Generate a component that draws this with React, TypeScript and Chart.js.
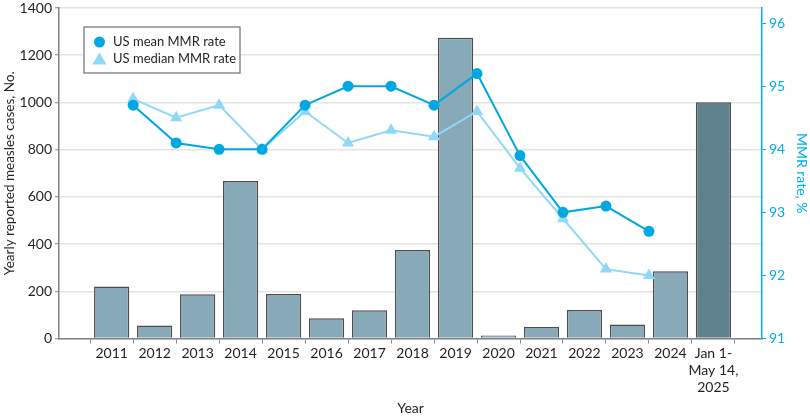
import { useEffect, useRef } from "react";
import { Chart, registerables } from "chart.js";

Chart.register(...registerables);

const years = [2011, 2012, 2013, 2014, 2015, 2016, 2017, 2018, 2019, 2020, 2021, 2022, 2023, 2024, 2025];
const yearLabels = ["2011", "2012", "2013", "2014", "2015", "2016", "2017", "2018", "2019", "2020", "2021", "2022", "2023", "2024", "Jan 1-|May 14,|2025"];
const measlesCases = [220, 55, 187, 667, 188, 86, 120, 375, 1274, 13, 49, 121, 59, 285, 1001];

// MMR points sit between the year bars (school years)
const mmrYears = [2011.5, 2012.5, 2013.5, 2014.5, 2015.5, 2016.5, 2017.5, 2018.5, 2019.5, 2020.5, 2021.5, 2022.5, 2023.5];
const meanMmr = [94.7, 94.1, 94.0, 94.0, 94.7, 95.0, 95.0, 94.7, 95.2, 93.9, 93.0, 93.1, 92.7];
const medianMmr = [94.8, 94.5, 94.7, 94.0, 94.6, 94.1, 94.3, 94.2, 94.6, 93.7, 92.9, 92.1, 92.0];

const leftTicks = [0, 200, 400, 600, 800, 1000, 1200, 1400];
const rightTicks = [91, 92, 93, 94, 95, 96];

const FONT = "Lato, 'Noto Sans', sans-serif";
const TEXT = "#231f20";
const CYAN = "#00aeef";
const MEAN = "#00a7e1";
const MEDIAN = "#8ed8f8";

const legendBox = {
  id: "legendBox",
  afterDraw(chart: Chart) {
    const ctx = chart.ctx;
    const x = 84;
    const y = 27;
    ctx.save();
    ctx.fillStyle = "#fff";
    ctx.strokeStyle = "#6d6e71";
    ctx.lineWidth = 1.2;
    ctx.fillRect(x, y, 156, 46);
    ctx.strokeRect(x, y, 156, 46);
    ctx.fillStyle = MEAN;
    ctx.beginPath();
    ctx.arc(x + 15.5, y + 15, 5.5, 0, Math.PI * 2);
    ctx.fill();
    ctx.fillStyle = MEDIAN;
    ctx.beginPath();
    const tx = x + 15.5;
    const ty = y + 32.5;
    ctx.moveTo(tx, ty - 7);
    ctx.lineTo(tx + 7, ty + 5);
    ctx.lineTo(tx - 7, ty + 5);
    ctx.closePath();
    ctx.fill();
    ctx.fillStyle = TEXT;
    ctx.font = `13px ${FONT}`;
    ctx.textBaseline = "middle";
    ctx.fillText("US mean MMR rate", x + 29, y + 15);
    ctx.fillText("US median MMR rate", x + 29, y + 32);
    ctx.restore();
  },
};

export default function App() {
  const canvasRef = useRef<HTMLCanvasElement | null>(null);

  useEffect(() => {
    if (!canvasRef.current) return;
    const chart = new Chart(canvasRef.current, {
      type: "bar",
      data: {
        datasets: [
          {
            type: "line",
            label: "US mean MMR rate",
            data: mmrYears.map((x, i) => ({ x, y: meanMmr[i] })),
            yAxisID: "y1",
            borderColor: MEAN,
            backgroundColor: MEAN,
            borderWidth: 2,
            pointRadius: 5.5,
            pointBorderWidth: 0,
            pointStyle: "circle",
            order: 0,
          },
          {
            type: "line",
            label: "US median MMR rate",
            data: mmrYears.map((x, i) => ({ x, y: medianMmr[i] })),
            yAxisID: "y1",
            borderColor: MEDIAN,
            backgroundColor: MEDIAN,
            borderWidth: 2,
            pointRadius: 7,
            pointBorderWidth: 0,
            pointStyle: "triangle",
            order: 1,
          },
          {
            type: "bar",
            label: "Yearly reported measles cases",
            data: years.map((x, i) => ({ x, y: measlesCases[i] })),
            yAxisID: "y",
            backgroundColor: years.map((yr) => (yr === 2025 ? "#5f808d" : "#87a9b8")),
            borderColor: "#4d4d4f",
            borderWidth: 1.5,
            borderSkipped: "bottom",
            categoryPercentage: 0.82,
            barPercentage: 1,
            order: 2,
          },
        ],
      },
      options: {
        animation: false,
        responsive: true,
        maintainAspectRatio: false,
        layout: { padding: { top: 8, left: 0, right: 0, bottom: 0 } },
        plugins: { legend: { display: false }, tooltip: { enabled: false } },
        scales: {
          x: {
            type: "linear",
            offset: false,
            min: 2009.775,
            max: 2026.13,
            afterBuildTicks: (scale) => {
              scale.ticks = years.map((v) => ({ value: v }));
            },
            afterFit: (scale) => {
              scale.height = 78.5;
              scale.paddingLeft = 0;
              scale.paddingRight = 0;
            },
            ticks: {
              color: TEXT,
              font: { family: FONT, size: 14 },
              padding: 2,
              maxRotation: 0,
              autoSkip: false,
              callback: (value) => {
                const i = years.indexOf(Number(value));
                return i < 0 ? "" : yearLabels[i].split("|");
              },
            },
            grid: { drawOnChartArea: false, drawTicks: true, tickLength: 5, color: "#808285" },
            border: { color: "#808285", width: 1.5 },
            title: {
              display: true,
              text: "Year",
              color: TEXT,
              font: { family: FONT, size: 14 },
              padding: { top: 6, bottom: 0 },
            },
          },
          y: {
            position: "left",
            min: 0,
            max: 1400,
            afterBuildTicks: (scale) => {
              scale.ticks = leftTicks.map((v) => ({ value: v }));
            },
            afterFit: (scale) => {
              scale.width = 59;
              scale.paddingTop = 0;
              scale.paddingBottom = 0;
            },
            ticks: {
              color: TEXT,
              font: { family: FONT, size: 14 },
              padding: 3,
              callback: (value) => String(value),
            },
            grid: { color: "#e3e3e3", lineWidth: 1.5, tickColor: "#808285", tickLength: 4, tickWidth: 1 },
            border: { color: "#808285", width: 1.5 },
            title: {
              display: true,
              text: "Yearly reported measles cases, No.",
              color: TEXT,
              font: { family: FONT, size: 13.5 },
              padding: { top: 2, bottom: 2 },
            },
          },
          y1: {
            position: "right",
            min: 91,
            max: 96.24,
            afterBuildTicks: (scale) => {
              scale.ticks = rightTicks.map((v) => ({ value: v }));
            },
            afterFit: (scale) => {
              scale.width = 48;
              scale.paddingTop = 0;
              scale.paddingBottom = 0;
            },
            ticks: {
              color: CYAN,
              font: { family: FONT, size: 14 },
              padding: 3,
              callback: (value) => String(value),
            },
            grid: { drawOnChartArea: false, drawTicks: true, tickLength: 4, color: CYAN },
            border: { color: CYAN, width: 1.5 },
            title: {
              display: true,
              text: "MMR rate, %",
              color: CYAN,
              font: { family: FONT, size: 14 },
              padding: { top: 0, bottom: 2 },
            },
          },
        },
      },
      plugins: [legendBox],
    });
    return () => chart.destroy();
  }, []);

  return (
    <div style={{ position: "absolute", left: 0, top: 0, width: 810, height: 417, background: "#fff" }}>
      <canvas ref={canvasRef} />
    </div>
  );
}
